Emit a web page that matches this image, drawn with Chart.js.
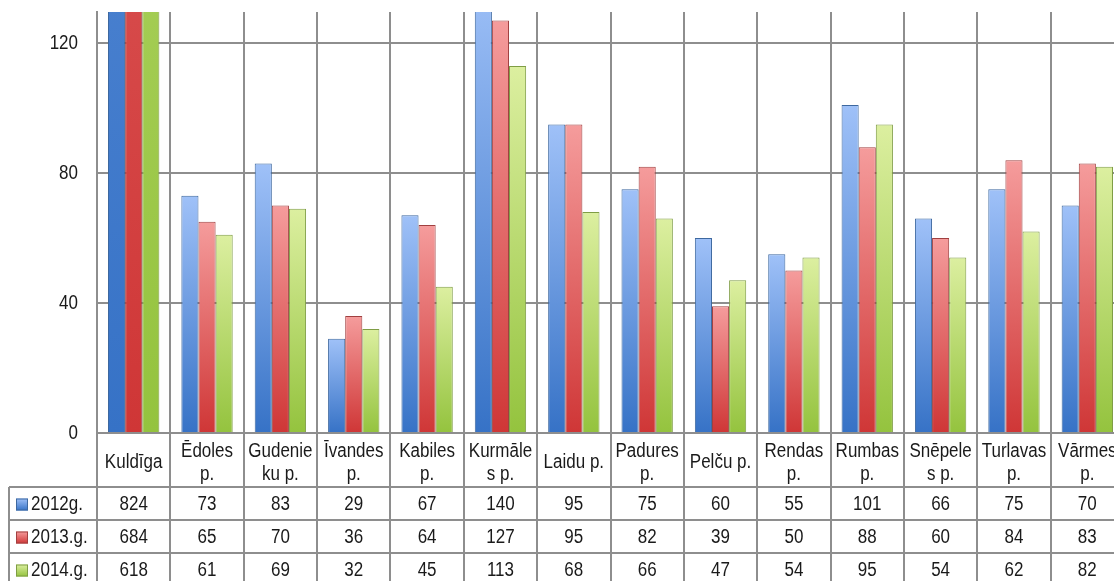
<!DOCTYPE html>
<html>
<head>
<meta charset="utf-8">
<script src="https://cdn.jsdelivr.net/npm/chart.js@4.4.1/dist/chart.umd.min.js"></script>
<style>
  html, body { margin: 0; padding: 0; background: #fff; overflow: hidden; }
  #wrap { position: absolute; left: 0; top: 0; width: 1124px; height: 581px; }
</style>
</head>
<body>
<div id="wrap"><canvas id="pagastiChart" width="1124" height="581"></canvas></div>
<script>
// categories (header cell lines as they wrap in the table)
const categories = [
  ["Kuldīga"], ["Ēdoles", "p."], ["Gudenie", "ku p."], ["Īvandes", "p."],
  ["Kabiles", "p."], ["Kurmāle", "s p."], ["Laidu p."], ["Padures", "p."],
  ["Pelču p."], ["Rendas", "p."], ["Rumbas", "p."], ["Snēpele", "s p."],
  ["Turlavas", "p."], ["Vārmes", "p."]
];

const seriesNames = ["2012g.", "2013.g.", "2014.g."];

const values2012 = [824, 73, 83, 29, 67, 140, 95, 75, 60, 55, 101, 66, 75, 70];
const values2013 = [684, 65, 70, 36, 64, 127, 95, 82, 39, 50, 88, 60, 84, 83];
const values2014 = [618, 61, 69, 32, 45, 113, 68, 66, 47, 54, 95, 54, 62, 82];

const yTicks = [0, 40, 80, 120];

// colours: light top -> saturated bottom, plus edge colour
const palette = [
  { light: "#9fc1f8", dark: "#3672c6", edge: "#3d689f" },
  { light: "#f59c9c", dark: "#cf3636", edge: "#a04040" },
  { light: "#dcefa0", dark: "#94c33e", edge: "#7f9d45" }
];

const FONT = '"Liberation Sans", Arial, sans-serif';
const NARROW = 0.85; // no narrow face installed, squeeze text horizontally
const GRID = "#8e8e8e";
const INK = "#1a1a1a";

// vertical gradient from the bar top down to zero
function barFill(idx) {
  return function (ctx) {
    const chart = ctx.chart;
    const p = palette[idx];
    if (!chart.chartArea || ctx.type !== "data") return p.dark;
    const y = chart.scales.y;
    const top = y.getPixelForValue(ctx.raw);
    const bot = y.getPixelForValue(0);
    if (!isFinite(top) || top >= bot) return p.dark;
    const g = chart.ctx.createLinearGradient(0, top, 0, bot);
    g.addColorStop(0, p.light);
    g.addColorStop(1, p.dark);
    return g;
  };
}

// condensed text helper
function narrowText(ctx, text, x, y, align) {
  ctx.save();
  ctx.translate(x, y);
  ctx.scale(NARROW, 1);
  ctx.textAlign = align || "center";
  ctx.fillText(text, 0, 0);
  ctx.restore();
}

// data table under the plot + y tick labels, drawn from the same arrays / scales
const dataTablePlugin = {
  id: "dataTable",
  afterDraw(chart) {
    const ctx = chart.ctx;
    const xs = chart.scales.x;
    const ys = chart.scales.y;
    const area = chart.chartArea;
    const n = categories.length;
    const half = (xs.getPixelForValue(1) - xs.getPixelForValue(0)) / 2;
    const headTop = area.bottom;
    const headBottom = 487;
    const rowH = 33;
    const tableLeft = 9;
    const rows = [values2012, values2013, values2014];

    ctx.save();
    ctx.strokeStyle = GRID;
    ctx.lineWidth = 2;

    // vertical lines at category edges
    for (let i = 0; i <= n; i++) {
      const xp = Math.round(xs.getPixelForValue(i) - half);
      ctx.beginPath();
      ctx.moveTo(xp, headTop);
      ctx.lineTo(xp, chart.height);
      ctx.stroke();
    }
    // left border of the series-name column
    ctx.beginPath();
    ctx.moveTo(tableLeft, headBottom);
    ctx.lineTo(tableLeft, chart.height);
    ctx.stroke();
    // horizontal row lines
    for (let r = 0; r < rows.length; r++) {
      const yp = headBottom + r * rowH;
      ctx.beginPath();
      ctx.moveTo(tableLeft, yp);
      ctx.lineTo(chart.width, yp);
      ctx.stroke();
    }

    ctx.fillStyle = INK;
    ctx.textBaseline = "middle";
    ctx.font = "20px " + FONT;

    // y tick labels
    yTicks.forEach(v => {
      narrowText(ctx, String(v), area.left - 19, ys.getPixelForValue(v), "right");
    });

    // header labels
    categories.forEach((lines, i) => {
      const cx = xs.getPixelForValue(i);
      if (lines.length === 1) {
        narrowText(ctx, lines[0], cx, (headTop + headBottom) / 2 + 2);
      } else {
        narrowText(ctx, lines[0], cx, headTop + 18);
        narrowText(ctx, lines[1], cx, headTop + 41);
      }
    });

    // value rows + legend keys
    rows.forEach((vals, r) => {
      const cy = headBottom + r * rowH + rowH / 2 + 1;
      vals.forEach((v, i) => {
        narrowText(ctx, String(v), xs.getPixelForValue(i), cy);
      });
      const p = palette[r];
      const g = ctx.createLinearGradient(0, cy - 6, 0, cy + 6);
      g.addColorStop(0, p.light);
      g.addColorStop(1, p.dark);
      ctx.fillStyle = g;
      ctx.fillRect(16, cy - 6, 12, 12);
      ctx.strokeStyle = p.edge;
      ctx.lineWidth = 1;
      ctx.strokeRect(16.5, cy - 5.5, 11, 11);
      ctx.fillStyle = INK;
      narrowText(ctx, seriesNames[r], 31, cy, "left");
    });

    ctx.restore();
  }
};

function makeDataset(idx, data) {
  return {
    label: seriesNames[idx],
    data: data,
    backgroundColor: barFill(idx),
    borderColor: palette[idx].edge,
    borderWidth: 1,
    categoryPercentage: 0.7,
    barPercentage: 1.0
  };
}

const pagastiChart = new Chart(document.getElementById("pagastiChart").getContext("2d"), {
  type: "bar",
  data: {
    labels: categories,
    datasets: [
      makeDataset(0, values2012),
      makeDataset(1, values2013),
      makeDataset(2, values2014)
    ]
  },
  options: {
    responsive: false,
    animation: false,
    layout: { padding: { top: 12, left: 0, right: 0, bottom: 0 } },
    plugins: {
      legend: { display: false },
      tooltip: { enabled: false }
    },
    scales: {
      x: {
        grid: { color: GRID, lineWidth: 2, drawTicks: false, offset: true },
        border: { color: GRID, width: 2 },
        ticks: { display: false },
        afterFit(scale) {
          scale.height = 148;
          scale.paddingLeft = 0;
          scale.paddingRight = 0;
        }
      },
      y: {
        min: 0,
        max: 129.6,
        grid: { color: GRID, lineWidth: 2, drawTicks: false },
        border: { color: GRID, width: 2 },
        ticks: { display: false },
        afterBuildTicks(scale) {
          scale.ticks = yTicks.map(v => ({ value: v }));
        },
        afterFit(scale) {
          scale.width = 97;
          scale.paddingTop = 0;
          scale.paddingBottom = 0;
        }
      }
    }
  },
  plugins: [dataTablePlugin]
});
</script>
</body>
</html>
